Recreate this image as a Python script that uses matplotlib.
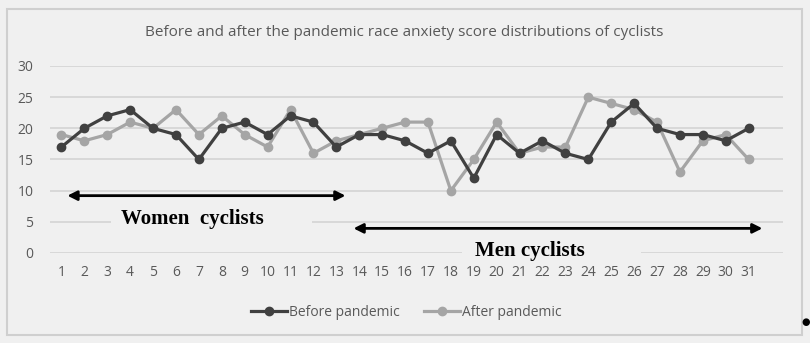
import matplotlib
matplotlib.use('Agg')
import matplotlib.pyplot as plt
from matplotlib.patches import Rectangle

cyclists = list(range(1, 32))
before = [17, 20, 22, 23, 20, 19, 15, 20, 21, 19, 22, 21, 17, 19, 19, 18,
          16, 18, 12, 19, 16, 18, 16, 15, 21, 24, 20, 19, 19, 18, 20]
after = [19, 18, 19, 21, 20, 23, 19, 22, 19, 17, 23, 16, 18, 19, 20, 21,
         21, 10, 15, 21, 16, 17, 17, 25, 24, 23, 21, 13, 18, 19, 15]
y_ticks = [0, 5, 10, 15, 20, 25, 30]
title = 'Before and after the pandemic race anxiety score distributions of cyclists'

bg = '#f0f0f0'
txt = '#595959'
grid_c = '#d4d4d4'
plt.rcParams['font.family'] = ['Open Sans', 'DejaVu Sans']

fig = plt.figure(figsize=(8.1, 3.43), dpi=100, facecolor=bg)
ax = fig.add_axes([0.0617, 0.2624, 0.905, 0.5452], facecolor=bg)

# chart border
fig.add_artist(Rectangle((0.0086, 0.0233), 0.9815, 0.9504, transform=fig.transFigure,
                         fill=False, edgecolor='#cfcfcf', linewidth=1.5))

ax.plot(cyclists, before, color='#404040', lw=2.3, marker='o', ms=6,
        label='Before pandemic', zorder=4)
ax.plot(cyclists, after, color='#a5a5a5', lw=2.3, marker='o', ms=6,
        label='After pandemic', zorder=3)

ax.set_xlim(0.5, 32.5)
ax.set_ylim(0, 30)
ax.set_xticks(cyclists)
ax.set_yticks(y_ticks)
ax.tick_params(length=0, colors=txt, labelsize=10, pad=9)
ax.tick_params(axis='y', pad=12)
for s in ax.spines.values():
    s.set_visible(False)
ax.grid(axis='y', color=grid_c, lw=1.2, zorder=0)
ax.set_axisbelow(True)

fig.text(0.499, 0.905, title, ha='center', va='center', color=txt, fontsize=11)

# text boxes hide the gridlines behind the labels
ax.add_patch(Rectangle((3.15, 3.0), 8.8, 4.0, facecolor=bg, edgecolor='none', zorder=1))
ax.add_patch(Rectangle((18.5, -1.5), 7.8, 3.0, facecolor=bg, edgecolor='none',
                       zorder=1, clip_on=False))

ax.annotate('', xy=(1.26, 9.2), xytext=(13.4, 9.2),
            arrowprops=dict(arrowstyle='<|-|>', color='black', lw=2, mutation_scale=14,
                            shrinkA=0, shrinkB=0), zorder=5)
ax.annotate('', xy=(13.75, 3.95), xytext=(31.6, 3.95),
            arrowprops=dict(arrowstyle='<|-|>', color='black', lw=2, mutation_scale=14,
                            shrinkA=0, shrinkB=0), zorder=5, annotation_clip=False)

ax.text(6.72, 5.5, 'Women  cyclists', family='Liberation Serif', weight='bold',
        fontsize=15, ha='center', va='center', zorder=6)
ax.text(21.45, 0.3, 'Men cyclists', family='Liberation Serif', weight='bold',
        fontsize=15, ha='center', va='center', zorder=6)

leg = ax.legend(loc='center', bbox_to_anchor=(0.486, -0.32), ncol=2, frameon=False,
                fontsize=10, handlelength=2.6, handletextpad=0.1, columnspacing=1.8,
                labelcolor=txt)

fig.text(0.995, 0.06, '\u25cf', fontsize=7, ha='center', va='center', color='black')

fig.savefig('out.png', dpi=100, facecolor=bg)
